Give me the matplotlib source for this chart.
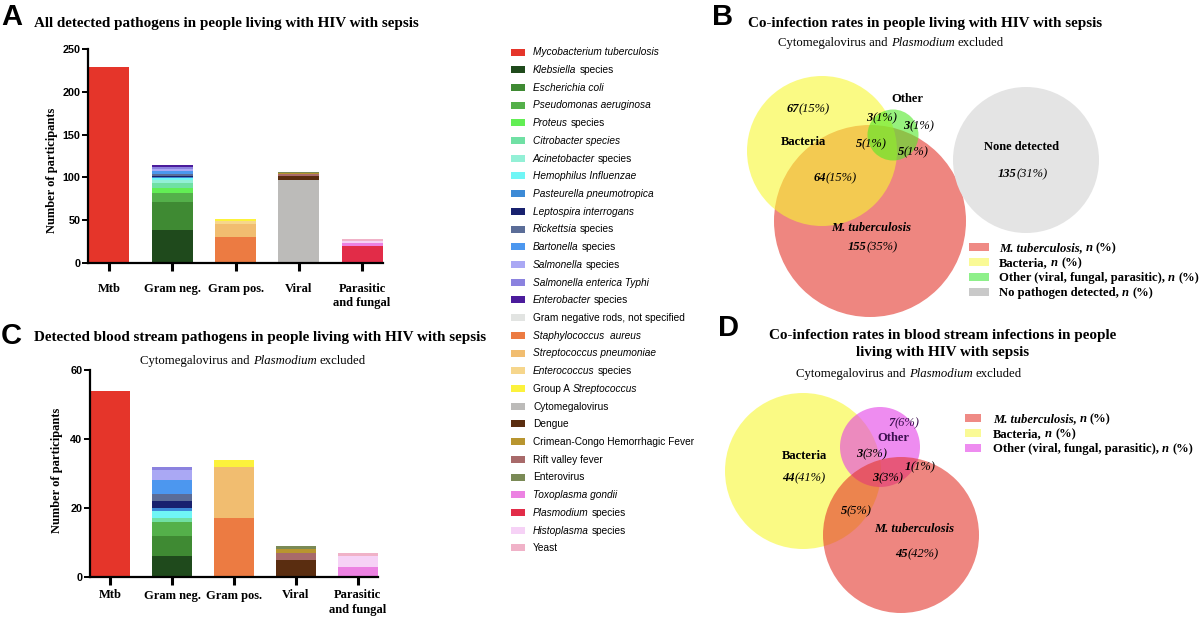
import matplotlib
matplotlib.use("Agg")
import matplotlib.pyplot as plt
import numpy as np
from matplotlib.patches import Circle, Rectangle

W, H = 1200, 620
SERIF = "Liberation Serif"
SANS = "Liberation Sans"

# ---- data -------------------------------------------------------------
categories = ["Mtb", "Gram neg.", "Gram pos.", "Viral", "Parasitic\nand fungal"]

# "*...*" marks italic text
pathogen_names = [
    "*Mycobacterium tuberculosis*",
    "*Klebsiella* species",
    "*Escherichia coli*",
    "*Pseudomonas aeruginosa*",
    "*Proteus* species",
    "*Citrobacter species*",
    "*Acinetobacter* species",
    "*Hemophilus Influenzae*",
    "*Pasteurella pneumotropica*",
    "*Leptospira interrogans*",
    "*Rickettsia* species",
    "*Bartonella* species",
    "*Salmonella* species",
    "*Salmonella enterica Typhi*",
    "*Enterobacter* species",
    "Gram negative rods, not specified",
    "*Staphylococcus  aureus*",
    "*Streptococcus pneumoniae*",
    "*Enterococcus* species",
    "Group A *Streptococcus*",
    "Cytomegalovirus",
    "Dengue",
    "Crimean-Congo Hemorrhagic Fever",
    "Rift valley fever",
    "Enterovirus",
    "*Toxoplasma gondii*",
    "*Plasmodium* species",
    "*Histoplasma* species",
    "Yeast",
]
pathogen_group = [0] + [1] * 15 + [2] * 4 + [3] * 5 + [4] * 4
pathogen_colors = [
    "#e5352a", "#1f4a1c", "#3f8a33", "#54b04a", "#62ee54", "#70e0a4",
    "#93f0d6", "#70f6f6", "#3c8ad6", "#18216e", "#5b6d98", "#4c97ef",
    "#aaa8f4", "#8b82df", "#4b1c9c", "#e2e4e2", "#ec7b42", "#f1bd70",
    "#f6d68c", "#fcf23c", "#bcbbb9", "#5a2d10", "#b8952f", "#a86a6a",
    "#7a8a56", "#ec82e2", "#e22c48", "#f6d2f6", "#f0b2c8",
]
counts_all = [229,
              38, 33, 11, 6, 5, 4, 2, 1, 2, 2, 3, 3, 2, 2, 0,
              30, 15, 4, 2,
              97, 5, 1, 2, 1,
              3, 20, 3, 2]
counts_blood = [54,
                6, 6, 4, 0, 1, 0, 2, 1, 2, 2, 4, 3, 1, 0, 0,
                17, 15, 0, 2,
                0, 5, 1, 2, 1,
                3, 0, 3, 1]
stack_order = list(range(22)) + [23, 22, 24, 26, 25, 27, 28]

venn_b_n = [67, 3, 3, 5, 5, 64, 155, 135]
venn_b_pct = [15, 1, 1, 1, 1, 15, 35, 31]
venn_b_legend = ["*M. tuberculosis,* *n* (%)", "Bacteria, *n* (%)",
                 "Other (viral, fungal, parasitic), *n* (%)",
                 "No pathogen detected, *n* (%)"]
venn_b_colors = ["#ef8a85", "#fafa96", "#8ef08a", "#c9c9c9"]

venn_d_n = [7, 3, 44, 1, 3, 5, 45]
venn_d_pct = [6, 3, 41, 1, 3, 5, 42]
venn_d_legend = venn_b_legend[:3]
venn_d_colors = ["#ef8a85", "#fafa96", "#ee8cf0"]

subtitle = "Cytomegalovirus and *Plasmodium* excluded"


# ---- helpers ----------------------------------------------------------
def fig_rect(left, top, right, bottom):
    return [left / W, 1 - bottom / H, (right - left) / W, (bottom - top) / H]


def markup(s, weight="normal"):
    parts = []
    for i, seg in enumerate(s.split("*")):
        if seg:
            parts.append((seg, {"style": "italic" if i % 2 else "normal", "weight": weight}))
    return parts


def text_width(ax, s, size, family, style):
    r = ax.figure.canvas.get_renderer()

    def w(t):
        tt = ax.text(0, 0, t, fontsize=size, family=family, **style)
        bb = tt.get_window_extent(renderer=r)
        tt.remove()
        return bb.width

    return w("|" + s + "|") - w("||")


def draw_parts(ax, x, y, parts, size, family, ha="left", color="black"):
    widths = [text_width(ax, s, size, family, st) for s, st in parts]
    start = x - sum(widths) / 2 if ha == "center" else x
    base = y + 0.33 * size * 100 / 72
    for (s, st), wd in zip(parts, widths):
        lead = len(s) - len(s.lstrip(" "))
        off = text_width(ax, " " * lead, size, family, st) if lead else 0
        if s.strip():
            ax.text(start + off, base, s.strip(" "), fontsize=size, family=family,
                    va="baseline", ha="left", color=color, **st)
        start += wd


def count_label(ax, x, y, n, pct, size=9, color="black"):
    parts = [(str(n), {"style": "italic", "weight": "bold"}),
             (f"({pct}%)", {"style": "italic", "weight": "normal"})]
    draw_parts(ax, x, y, parts, size, SERIF, ha="center", color=color)


def stacked_bars(ax, counts, ymax, yticks):
    bottoms = np.zeros(len(categories))
    for p in stack_order:
        heights = np.zeros(len(categories))
        heights[pathogen_group[p]] = counts[p]
        ax.bar(np.arange(len(categories)), heights, bottom=bottoms, width=0.65,
               color=pathogen_colors[p], edgecolor="none")
        bottoms += heights
    ax.set_xlim(-0.33, len(categories) - 1 + 0.33)
    ax.set_ylim(0, ymax)
    ax.set_yticks(yticks)
    ax.set_xticks(np.arange(len(categories)))
    ax.set_xticklabels(categories)
    for side in ("top", "right"):
        ax.spines[side].set_visible(False)
    for side in ("left", "bottom"):
        ax.spines[side].set_linewidth(1.6)
    ax.tick_params(axis="y", length=4, width=1.4, pad=1.5, labelsize=7.8)
    ax.tick_params(axis="x", length=6, width=2.2, labelsize=9)
    for lbl in ax.get_yticklabels():
        lbl.set_fontfamily(SANS)
        lbl.set_fontweight("bold")
    for lbl in ax.get_xticklabels():
        lbl.set_fontfamily(SERIF)
        lbl.set_fontweight("bold")
        lbl.set_linespacing(1.25)


# ---- figure -----------------------------------------------------------
fig = plt.figure(figsize=(12, 6.2), dpi=100)

ax_a = fig.add_axes(fig_rect(88, 49, 383, 263))
stacked_bars(ax_a, counts_all, 250, [0, 50, 100, 150, 200, 250])
ax_a.tick_params(axis="x", pad=8.5)

ax_c = fig.add_axes(fig_rect(90, 370, 378, 577))
stacked_bars(ax_c, counts_blood, 60, [0, 20, 40, 60])
ax_c.tick_params(axis="x", pad=3)

ov = fig.add_axes([0, 0, 1, 1])
ov.set_xlim(0, W)
ov.set_ylim(H, 0)
ov.set_aspect("equal")
ov.axis("off")

# panel letters and titles
for letter, x, y in [("A", 1, 17), ("B", 712, 17), ("C", 1, 336), ("D", 718, 328)]:
    ov.text(x, y, letter, fontsize=21, family=SANS, weight="bold", va="center", ha="left")

ov.text(34, 23, "All detected pathogens in people living with HIV with sepsis",
        fontsize=10.9, family=SERIF, weight="bold", va="center")
ov.text(34, 338, "Detected blood stream pathogens in people living with HIV with sepsis",
        fontsize=10.9, family=SERIF, weight="bold", va="center")
draw_parts(ov, 253, 360, markup(subtitle), 9.2, SERIF, ha="center")
ov.text(52, 170, "Number of participants", rotation=90, fontsize=9, family=SERIF,
        weight="bold", va="center", ha="center")
ov.text(57, 470, "Number of participants", rotation=90, fontsize=9, family=SERIF,
        weight="bold", va="center", ha="center")

ov.text(748, 23, "Co-infection rates in people living with HIV with sepsis",
        fontsize=10.9, family=SERIF, weight="bold", va="center")
draw_parts(ov, 891, 42, markup(subtitle), 9.2, SERIF, ha="center")
ov.text(943, 344, "Co-infection rates in blood stream infections in people\nliving with HIV with sepsis",
        fontsize=10.9, family=SERIF, weight="bold", va="center", ha="center", linespacing=1.45)
draw_parts(ov, 909, 373, markup(subtitle), 9.2, SERIF, ha="center")

# pathogen legend
for i, name in enumerate(pathogen_names):
    yy = 52 + i * 17.71
    ov.add_patch(Rectangle((511, yy - 3.5), 14, 7, facecolor=pathogen_colors[i], edgecolor="none"))
    draw_parts(ov, 533, yy, markup(name), 7.3, SANS)

# Venn B
ov.add_patch(Circle((870, 221), 96, facecolor="#e3352b", alpha=0.6, edgecolor="none"))
ov.add_patch(Circle((822, 151), 75, facecolor="#f8f832", alpha=0.6, edgecolor="none"))
ov.add_patch(Circle((893, 135), 25.5, facecolor="#50e926", alpha=0.6, edgecolor="none"))
ov.add_patch(Circle((1026, 160), 73, facecolor="#e4e4e4", edgecolor="none"))

venn_b_pos = [(808, 108), (882, 117), (919, 125), (871, 143), (913, 151),
              (835, 177), (873, 246), (1023, 173)]
for (x, y), n, p in zip(venn_b_pos, venn_b_n, venn_b_pct):
    count_label(ov, x, y, n, p)
for s, x, y, st in [("Bacteria", 803, 142, "normal"), ("Other", 907, 99, "normal"),
                    ("M. tuberculosis", 871, 228, "italic"),
                    ("None detected", 1022, 147, "normal")]:
    ov.text(x, y, s, fontsize=9, family=SERIF, weight="bold", style=st, ha="center", va="center")

for i, (lab, col) in enumerate(zip(venn_b_legend, venn_b_colors)):
    yy = 247 + i * 15
    ov.add_patch(Rectangle((969, yy - 4), 20, 8, facecolor=col, edgecolor="none"))
    draw_parts(ov, 999, yy, markup(lab, weight="bold"), 9.1, SERIF)

# Venn D
ov.add_patch(Circle((803, 471), 78, facecolor="#f8f832", alpha=0.6, edgecolor="none"))
ov.add_patch(Circle((880, 447), 40, facecolor="#e33fe6", alpha=0.6, edgecolor="none"))
ov.add_patch(Circle((901, 535), 78, facecolor="#e3352b", alpha=0.6, edgecolor="none"))

venn_d_pos = [(904, 422), (872, 453), (804, 477), (920, 466), (888, 477),
              (856, 510), (917, 553)]
for (x, y), n, p in zip(venn_d_pos, venn_d_n, venn_d_pct):
    count_label(ov, x, y, n, p, color="#3b0f4f" if n == 7 else "black")
ov.text(804, 456, "Bacteria", fontsize=9, family=SERIF, weight="bold", ha="center", va="center")
ov.text(893, 438, "Other", fontsize=9, family=SERIF, weight="bold", ha="center", va="center",
        color="#3b0f4f")
ov.text(914, 529, "M. tuberculosis", fontsize=9, family=SERIF, weight="bold", style="italic",
        ha="center", va="center")

for i, (lab, col) in enumerate(zip(venn_d_legend, venn_d_colors)):
    yy = 418 + i * 15
    ov.add_patch(Rectangle((965, yy - 4), 16, 8, facecolor=col, edgecolor="none"))
    draw_parts(ov, 993, yy, markup(lab, weight="bold"), 9.1, SERIF)

fig.savefig("out.png", dpi=100)
